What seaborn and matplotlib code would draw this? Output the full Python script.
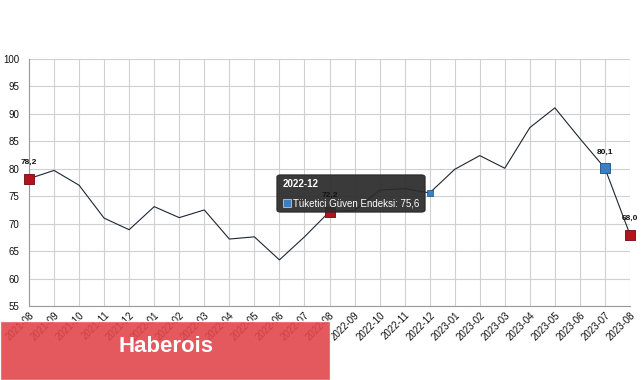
import matplotlib
matplotlib.use("Agg")
import matplotlib.pyplot as plt
import seaborn as sns
import pandas as pd
from matplotlib.patches import FancyBboxPatch, Rectangle
from matplotlib.text import Annotation

months = ["2021-08", "2021-09", "2021-10", "2021-11", "2021-12",
          "2022-01", "2022-02", "2022-03", "2022-04", "2022-05", "2022-06",
          "2022-07", "2022-08", "2022-09", "2022-10", "2022-11", "2022-12",
          "2023-01", "2023-02", "2023-03", "2023-04", "2023-05", "2023-06",
          "2023-07", "2023-08"]
values = [78.2, 79.7, 77.0, 71.0, 68.9,
          73.1, 71.1, 72.5, 67.2, 67.6, 63.4,
          67.6, 72.2, 72.4, 76.1, 76.4, 75.6,
          79.9, 82.4, 80.1, 87.5, 91.1, 85.5,
          80.1, 68.0]
red_months = ["2021-08", "2022-08", "2023-08"]
blue_months = ["2023-07"]
hover_month = "2022-12"
series_name = "Tüketici Güven Endeksi"
y_ticks = [55, 60, 65, 70, 75, 80, 85, 90, 95, 100]

def fmt(v):
    return f"{v:.1f}".replace(".", ",")

sns.set_theme(style="white")
plt.rcParams['font.family'] = ['Liberation Sans', 'DejaVu Sans']

df = pd.DataFrame({"month": months, "value": values})
df["pos"] = range(len(df))

fig = plt.figure(figsize=(6.41, 3.8), dpi=100)
W, H = 641, 380
ax = fig.add_axes([29 / W, 1 - 306 / H, 601 / W, 247 / H])

sns.lineplot(data=df, x="pos", y="value", ax=ax, color="#1c2633", linewidth=0.8)

red = df[df["month"].isin(red_months)]
blue = df[df["month"].isin(blue_months)]
hov = df[df["month"] == hover_month]
sns.scatterplot(data=red, x="pos", y="value", ax=ax, marker="s", s=60,
                color="#b3141c", edgecolor="#6e0a0e", linewidth=0.6, zorder=5, clip_on=False)
sns.scatterplot(data=blue, x="pos", y="value", ax=ax, marker="s", s=60,
                color="#3a7fc4", edgecolor="#1d4f80", linewidth=0.6, zorder=5, clip_on=False)
sns.scatterplot(data=hov, x="pos", y="value", ax=ax, marker="s", s=14,
                color="#3a7fc4", edgecolor="#1d4f80", linewidth=0.5, zorder=5, clip_on=False)

ax.set_xlim(0, len(months) - 1)
ax.set_ylim(55, 100)
ax.set_xticks(df["pos"])
ax.set_xticklabels(months, rotation=45, ha="right", rotation_mode="anchor",
                   fontsize=7, color="#111111")
ax.set_yticks(y_ticks)
ax.set_yticklabels([str(t) for t in y_ticks], fontsize=7, color="#111111")
ax.tick_params(axis="x", length=0, pad=3)
ax.tick_params(axis="y", length=0, pad=7)
ax.grid(True, color="#d0d0d0", linewidth=0.8)
ax.set_axisbelow(True)
ax.set_xlabel("")
ax.set_ylabel("")
for s in ["top", "right"]:
    ax.spines[s].set_visible(False)
for s in ["left", "bottom"]:
    ax.spines[s].set_color("#999999")
    ax.spines[s].set_linewidth(0.8)

# tooltip (figure pixel coords)
def fx(px):
    return px / W
def fy(py):
    return 1 - py / H

tip = FancyBboxPatch((fx(277), fy(212)), (425 - 277) / W, 37 / H,
                     boxstyle="round,pad=0,rounding_size=0.006",
                     transform=fig.transFigure, facecolor="#2b2b2b",
                     edgecolor="#2b2b2b", alpha=0.93, zorder=10)
fig.patches.append(tip)
fig.text(fx(283), fy(184), hover_month, color="white", fontsize=7,
         fontweight="bold", va="center", ha="left", zorder=11)
fig.patches.append(Rectangle((fx(283), fy(207)), 8 / W, 8 / H,
                             transform=fig.transFigure, facecolor="#3a7fc4",
                             edgecolor="white", linewidth=0.4, zorder=11))
fig.text(fx(293), fy(203), f"{series_name}: {fmt(values[months.index(hover_month)])}",
         color="white", fontsize=7, va="center", ha="left", zorder=11)

# data labels drawn at figure level so they sit above the tooltip
for _, r in pd.concat([red, blue]).iterrows():
    ann = Annotation(fmt(r["value"]), xy=(r["pos"], r["value"]), xycoords=ax.transData,
                     xytext=(0, 9), textcoords="offset points", ha="center", va="bottom",
                     fontsize=6, fontweight="bold", color="#111111",
                     annotation_clip=False)
    ann.set_zorder(12)
    fig.add_artist(ann)

# watermark banner
fig.patches.append(Rectangle((0, 0), 330 / W, (380 - 321) / H,
                             transform=fig.transFigure, facecolor="#e0474c",
                             alpha=0.9, zorder=20))
fig.text(fx(166), fy(346), "Haberois", color="white", fontsize=16,
         fontweight="bold", ha="center", va="center", zorder=21)

fig.savefig("out.png", dpi=100)
